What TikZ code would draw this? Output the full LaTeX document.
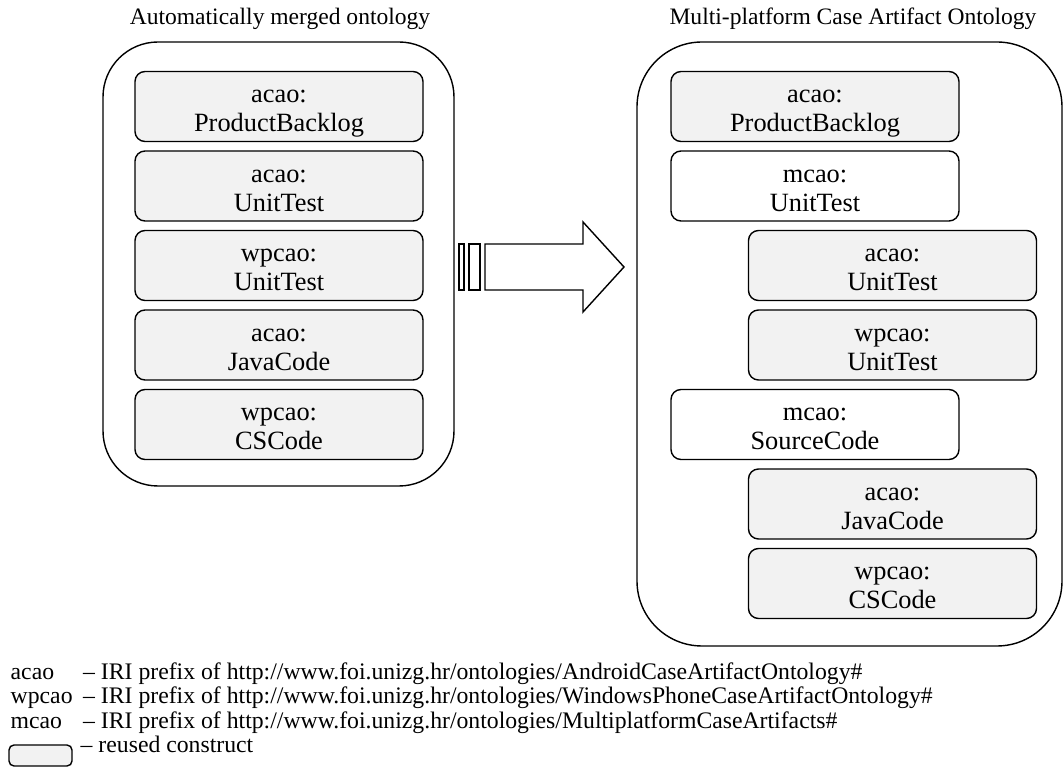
\documentclass[tikz,border=0pt]{standalone}
\usepackage{fontspec}
\setmainfont{Liberation Serif}
\usepackage{tikz}
\usetikzlibrary{positioning}
\usepackage{xcolor}
\definecolor{reusedgray}{HTML}{F2F2F2}
\newcommand{\ontclass}[2]{\raisebox{0pt}[32.6pt][4pt]{\begin{tabular}[b]{@{}c@{}}#1\\#2\end{tabular}}}

\begin{document}
\begin{tikzpicture}[x=1cm,y=1cm,line width=0.8pt,
  every node/.style={font=\fontsize{15}{16.4}\selectfont},
  concept/.style={draw,rounded corners=0.2cm,minimum width=5.76cm,minimum height=1.4cm,inner sep=0pt},
  reused/.style={concept,fill=reusedgray},
  merged/.style={concept,fill=white},
  titletext/.style={anchor=base,font=\fontsize{13.4}{15}\selectfont},
  legendtext/.style={anchor=base west,inner sep=0pt,font=\fontsize{13.5}{15}\selectfont}]
\useasboundingbox (0,0) rectangle (21.26,-15.34);
\node[titletext] (ltitle) at (5.6,-0.5) {Automatically merged ontology};
\node[titletext] (rtitle) at (17.06,-0.5) {Multi-platform Case Artifact Ontology};
\node[draw,rounded corners=1.1cm,minimum width=7.02cm,minimum height=8.88cm] (lont) at (5.57,-5.28) {};
\node[draw,rounded corners=1.3cm,minimum width=8.5cm,minimum height=12.08cm] (ront) at (16.99,-6.88) {};
\node[reused] (lbacklog) at (5.58,-2.13) {\ontclass{acao:}{ProductBacklog}};
\node[reused] (lunitacao) at (5.58,-3.72) {\ontclass{acao:}{UnitTest}};
\node[reused] (lunitwpcao) at (5.58,-5.31) {\ontclass{wpcao:}{UnitTest}};
\node[reused] (ljava) at (5.58,-6.90) {\ontclass{acao:}{JavaCode}};
\node[reused] (lcs) at (5.58,-8.49) {\ontclass{wpcao:}{CSCode}};
\draw (9.18,-4.88) rectangle (9.28,-5.80);
\draw (9.38,-4.88) rectangle (9.60,-5.80);
\draw (9.70,-4.88) -- (11.66,-4.88) -- (11.66,-4.44) -- (12.48,-5.34) -- (11.66,-6.24) -- (11.66,-5.80) -- (9.70,-5.80) -- cycle;
\node[reused] (rbacklog) at (16.30,-2.13) {\ontclass{acao:}{ProductBacklog}};
\node[merged] (runit) at (16.30,-3.72) {\ontclass{mcao:}{UnitTest}};
\node[reused] (runitacao) at (17.85,-5.31) {\ontclass{acao:}{UnitTest}};
\node[reused] (runitwpcao) at (17.85,-6.90) {\ontclass{wpcao:}{UnitTest}};
\node[merged] (rsource) at (16.30,-8.49) {\ontclass{mcao:}{SourceCode}};
\node[reused] (rjava) at (17.85,-10.08) {\ontclass{acao:}{JavaCode}};
\node[reused] (rcs) at (17.85,-11.67) {\ontclass{wpcao:}{CSCode}};
\node[legendtext] (acaoname) at (0.2,-13.60) {acao};
\node[legendtext] (acaoiri) at (1.65,-13.60) {-- IRI prefix of http://www.foi.unizg.hr/ontologies/AndroidCaseArtifactOntology\#};
\node[legendtext] (wpcaoname) at (0.2,-14.08) {wpcao};
\node[legendtext] (wpcaoiri) at (1.65,-14.08) {-- IRI prefix of http://www.foi.unizg.hr/ontologies/WindowsPhoneCaseArtifactOntology\#};
\node[legendtext] (mcaoname) at (0.2,-14.58) {mcao};
\node[legendtext] (mcaoiri) at (1.65,-14.58) {-- IRI prefix of http://www.foi.unizg.hr/ontologies/MultiplatformCaseArtifacts\#};
\node[draw,fill=reusedgray,rounded corners=0.1cm,minimum width=1.26cm,minimum height=0.42cm] (swatch) at (0.81,-15.11) {};
\node[legendtext] (reusedtext) at (1.60,-15.06) {-- reused construct};
\end{tikzpicture}
\end{document}
